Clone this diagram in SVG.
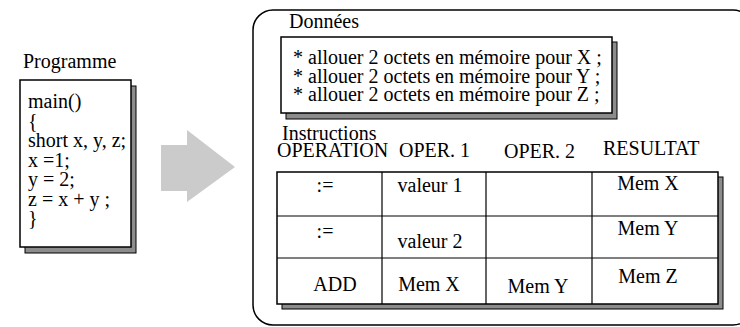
<svg xmlns="http://www.w3.org/2000/svg" width="740" height="327" viewBox="0 0 740 327" font-family="'Liberation Serif', 'Times New Roman', 'DejaVu Serif', serif" font-size="20">
<style>
text{font-family:'Liberation Serif','Times New Roman','DejaVu Serif',serif;font-size:20px;fill:#000}
.box{fill:#fff;stroke:#000;stroke-width:1.5}
.shadow{fill:#8c8c8c;stroke:#000;stroke-width:1}
.ln{stroke:#000;stroke-width:1.2;fill:none}
.c{text-anchor:middle}
</style>
<rect width="740" height="327" fill="#fff"/>
<g id="programme">
<text x="23" y="68">Programme</text>
<rect class="shadow" x="25" y="86" width="111" height="167"/>
<rect class="box" x="20" y="80" width="111" height="167"/>
<text x="28" y="108">main()</text>
<text x="28" y="127.5">{</text>
<text x="28" y="147">short x, y, z;</text>
<text x="28" y="166.5">x =1;</text>
<text x="28" y="186">y = 2;</text>
<text x="28" y="205.5">z = x + y ;</text>
<text x="28" y="225">}</text>
</g>
<g id="connectors">
<path d="M161,145 H187 V130 L235,167 L187,202 V191 H161 Z" fill="#cbcbcb"/>
</g>
<g id="memoire">
<rect x="253" y="10" width="500" height="315" rx="20" ry="20" fill="#fff" stroke="#000" stroke-width="1.5"/>
<text x="289" y="28">Données</text>
</g>
<g id="donnees">
<rect class="shadow" x="286" y="42" width="331" height="77"/>
<rect class="box" x="281" y="37" width="331" height="76"/>
<text x="293" y="64">* allouer 2 octets en mémoire pour X ;</text>
<text x="293" y="82.5">* allouer 2 octets en mémoire pour Y ;</text>
<text x="293" y="101">* allouer 2 octets en mémoire pour Z ;</text>
</g>
<g id="instructions">
<text x="282" y="140">Instructions</text>
<text x="277" y="157">OPERATION</text>
<text x="399" y="157">OPER. 1</text>
<text x="504" y="158">OPER. 2</text>
<text x="603" y="155">RESULTAT</text>
<rect class="shadow" x="282" y="177" width="441" height="132"/>
<rect class="box" x="277" y="172" width="441" height="132"/>
<path class="ln" d="M277,216 H718 M277,258 H718 M382,172 V304 M486,172 V304 M592,172 V304"/>
<text class="c" x="325" y="192">:=</text>
<text class="c" x="430" y="192">valeur 1</text>
<text class="c" x="648" y="190">Mem X</text>
<text class="c" x="325" y="238">:=</text>
<text class="c" x="430" y="248">valeur 2</text>
<text class="c" x="648" y="235">Mem Y</text>
<text class="c" x="335" y="291">ADD</text>
<text class="c" x="429" y="291">Mem X</text>
<text class="c" x="538" y="293">Mem Y</text>
<text class="c" x="648" y="283">Mem Z</text>
</g>
</svg>
